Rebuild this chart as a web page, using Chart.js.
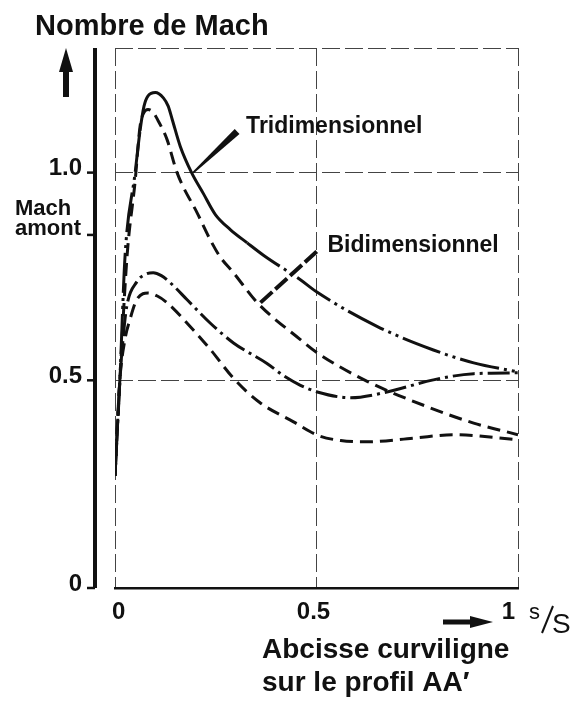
<!DOCTYPE html>
<html lang="fr">
<head>
    <meta charset="UTF-8">
    <title>Nombre de Mach</title>
    <script src="https://cdn.jsdelivr.net/npm/chart.js"></script>
    <style>
        body {
            margin: 0;
            background-color: #fff;
        }
        #wrap {
            position: relative;
            width: 582px;
            height: 704px;
        }
    </style>
</head>
<body>
    <div id="wrap">
        <canvas id="machChart" width="582" height="704"></canvas>
    </div>

    <script>
        // valeurs (s/S, nombre de Mach)
        var triHautX = [0, 0.012, 0.025, 0.05, 0.062, 0.072, 0.082, 0.1, 0.12, 0.132, 0.142, 0.162, 0.19, 0.219, 0.249, 0.286, 0.328, 0.37, 0.46, 0.5, 0.65, 0.79, 0.89, 1.0];
        var triHautY = [0.27, 0.5, 0.8, 1.0, 1.1, 1.16, 1.185, 1.193, 1.18, 1.16, 1.128, 1.063, 1.0, 0.95, 0.899, 0.863, 0.831, 0.80, 0.742, 0.713, 0.63, 0.573, 0.542, 0.52];

        var biHautX = [0, 0.012, 0.03, 0.05, 0.062, 0.072, 0.082, 0.095, 0.107, 0.129, 0.154, 0.206, 0.236, 0.261, 0.294, 0.353, 0.46, 0.502, 0.627, 0.776, 0.89, 1.0];
        var biHautY = [0.27, 0.5, 0.8, 0.98, 1.11, 1.145, 1.152, 1.145, 1.125, 1.08, 1.0, 0.899, 0.839, 0.797, 0.759, 0.687, 0.598, 0.566, 0.497, 0.436, 0.397, 0.369];

        var triBasX = [0, 0.012, 0.02, 0.029, 0.054, 0.075, 0.095, 0.115, 0.137, 0.179, 0.236, 0.294, 0.378, 0.42, 0.46, 0.502, 0.585, 0.667, 0.79, 0.89, 1.0];
        var triBasY = [0.27, 0.5, 0.6, 0.677, 0.737, 0.755, 0.759, 0.752, 0.735, 0.694, 0.638, 0.59, 0.54, 0.51, 0.488, 0.472, 0.458, 0.47, 0.501, 0.516, 0.518];

        var biBasX = [0, 0.012, 0.025, 0.037, 0.054, 0.082, 0.105, 0.129, 0.187, 0.236, 0.294, 0.36, 0.443, 0.502, 0.56, 0.627, 0.742, 0.84, 1.0];
        var biBasY = [0.27, 0.5, 0.6, 0.646, 0.694, 0.71, 0.703, 0.687, 0.629, 0.575, 0.505, 0.446, 0.40, 0.368, 0.355, 0.352, 0.361, 0.369, 0.357];

        var yTicks = [0, 0.5, 1.0, 1.3];
        var yTickLabels = ['0', '0.5', '1.0', ''];
        var xTicks = [0, 0.5, 1];
        var xTickLabels = ['0', '0.5', '1'];
        var machAmont = 0.85;

        var FONT = '"Liberation Sans", Arial, sans-serif';
        Chart.defaults.font.family = FONT;

        function pts(xs, ys) {
            return xs.map(function(x, i) { return { x: x, y: ys[i] }; });
        }

        // annotations: point on the curve -> end of leader (data units)
        var notes = [
            { text: 'Tridimensionnel', from: [0.194, 1.0], to: [0.303, 1.099], dashed: false },
            { text: 'Bidimensionnel', from: [0.361, 0.687], to: [0.505, 0.814], dashed: true }
        ];

        function arrowUp(ctx, x, top, bottom) {
            ctx.beginPath();
            ctx.moveTo(x, top);
            ctx.lineTo(x + 7, top + 24);
            ctx.lineTo(x - 7, top + 24);
            ctx.closePath();
            ctx.fill();
            ctx.fillRect(x - 3, top + 20, 6, bottom - top - 20);
        }

        function arrowRight(ctx, left, right, y) {
            ctx.fillRect(left, y - 2.5, right - left - 20, 5);
            ctx.beginPath();
            ctx.moveTo(right, y);
            ctx.lineTo(right - 23, y - 6);
            ctx.lineTo(right - 23, y + 6);
            ctx.closePath();
            ctx.fill();
        }

        var decorPlugin = {
            id: 'decor',
            afterDraw: function(chart) {
                var ctx = chart.ctx;
                var xs = chart.scales.x, ys = chart.scales.y;
                var area = chart.chartArea;
                ctx.save();
                ctx.fillStyle = '#111';
                ctx.strokeStyle = '#111';

                // title + up arrow
                ctx.font = 'bold 29px ' + FONT;
                ctx.textAlign = 'left';
                ctx.textBaseline = 'alphabetic';
                ctx.fillText('Nombre de Mach', 35, 35);
                arrowUp(ctx, 66, area.top, area.top + 49);

                // detached vertical axis with ticks
                var axX = area.left - 20;
                ctx.lineWidth = 4;
                ctx.beginPath();
                ctx.moveTo(axX, area.top);
                ctx.lineTo(axX, area.bottom);
                ctx.stroke();
                ctx.lineWidth = 2.5;
                yTicks.slice(0, 3).concat([machAmont]).forEach(function(v) {
                    var py = ys.getPixelForValue(v);
                    ctx.beginPath();
                    ctx.moveTo(axX - 8, py);
                    ctx.lineTo(axX, py);
                    ctx.stroke();
                });

                // Mach amont
                var pa = ys.getPixelForValue(machAmont);
                ctx.font = 'bold 22px ' + FONT;
                ctx.fillText('Mach', 15, pa - 20);
                ctx.fillText('amont', 15, pa);

                // curve labels with leaders
                notes.forEach(function(n) {
                    var x0 = xs.getPixelForValue(n.from[0]), y0 = ys.getPixelForValue(n.from[1]);
                    var x1 = xs.getPixelForValue(n.to[0]), y1 = ys.getPixelForValue(n.to[1]);
                    if (n.dashed) {
                        ctx.lineWidth = 4;
                        ctx.setLineDash([16, 4]);
                        ctx.beginPath();
                        ctx.moveTo(x0, y0);
                        ctx.lineTo(x1, y1);
                        ctx.stroke();
                        ctx.setLineDash([]);
                    } else {
                        var dx = x1 - x0, dy = y1 - y0, len = Math.sqrt(dx * dx + dy * dy);
                        var nx = -dy / len, ny = dx / len;
                        ctx.beginPath();
                        ctx.moveTo(x0 + nx * 1, y0 + ny * 1);
                        ctx.lineTo(x1 + nx * 3.5, y1 + ny * 3.5);
                        ctx.lineTo(x1 - nx * 3.5, y1 - ny * 3.5);
                        ctx.lineTo(x0 - nx * 1, y0 - ny * 1);
                        ctx.closePath();
                        ctx.fill();
                    }
                    ctx.font = 'bold 23px ' + FONT;
                    ctx.fillText(n.text, x1 + 9, y1 + 2);
                });

                // unit after the last x tick
                var p1 = xs.getPixelForValue(1);
                arrowRight(ctx, p1 - 75, p1 - 25, 622);
                ctx.font = '22px ' + FONT;
                ctx.fillText('s', p1 + 11, 619);
                ctx.lineWidth = 2;
                ctx.beginPath();
                ctx.moveTo(p1 + 24, 633);
                ctx.lineTo(p1 + 35, 606);
                ctx.stroke();
                ctx.font = '28px ' + FONT;
                ctx.fillText('S', p1 + 34, 633);

                // x axis title
                ctx.font = 'bold 28px ' + FONT;
                ctx.fillText('Abcisse curviligne', 262, 658);
                ctx.fillText('sur le profil AA\u2032', 262, 691);
                ctx.restore();
            }
        };

        var gridDash = [18, 5];

        new Chart(document.getElementById('machChart'), {
            type: 'line',
            data: {
                datasets: [
                    {
                        label: 'Tridimensionnel',
                        data: pts(triHautX, triHautY),
                        borderColor: '#111',
                        borderWidth: 3,
                        borderDash: [40, 5, 3, 5, 3, 5],
                        segment: {
                            borderDash: function(c) {
                                return (c.p0.parsed.x >= 0.06 && c.p1.parsed.x <= 0.33) ? [] : undefined;
                            }
                        }
                    },
                    {
                        label: 'Bidimensionnel',
                        data: pts(biHautX, biHautY),
                        borderColor: '#111',
                        borderWidth: 3,
                        borderDash: [13, 7]
                    },
                    {
                        label: 'Tridimensionnel (bas)',
                        data: pts(triBasX, triBasY),
                        borderColor: '#111',
                        borderWidth: 3,
                        borderDash: [22, 5, 3, 5]
                    },
                    {
                        label: 'Bidimensionnel (bas)',
                        data: pts(biBasX, biBasY),
                        borderColor: '#111',
                        borderWidth: 3,
                        borderDash: [13, 7]
                    }
                ]
            },
            options: {
                responsive: false,
                animation: false,
                events: [],
                layout: { padding: { top: 48, right: 64, left: 0, bottom: 0 } },
                elements: {
                    point: { radius: 0 },
                    line: { cubicInterpolationMode: 'monotone', fill: false }
                },
                plugins: {
                    legend: { display: false },
                    tooltip: { enabled: false }
                },
                scales: {
                    x: {
                        type: 'linear',
                        min: 0,
                        max: 1,
                        afterFit: function(s) { s.height = 116; },
                        afterBuildTicks: function(s) {
                            s.ticks = xTicks.map(function(v) { return { value: v }; });
                        },
                        grid: { color: '#444', lineWidth: 1, drawTicks: false },
                        border: { color: '#111', width: 2.5, dash: gridDash },
                        ticks: {
                            align: 'inner',
                            labelOffset: -3,
                            padding: 10,
                            color: '#111',
                            font: { size: 24, weight: 'bold' },
                            callback: function(v, i) { return xTickLabels[i]; }
                        }
                    },
                    y: {
                        type: 'linear',
                        min: 0,
                        max: 1.3,
                        afterFit: function(s) { s.width = 115; },
                        afterBuildTicks: function(s) {
                            s.ticks = yTicks.map(function(v) { return { value: v }; });
                        },
                        grid: { color: '#444', lineWidth: 1, drawTicks: false },
                        border: { display: false, dash: gridDash },
                        ticks: {
                            padding: 33,
                            labelOffset: -4,
                            color: '#111',
                            font: { size: 24, weight: 'bold' },
                            callback: function(v, i) { return yTickLabels[i]; }
                        }
                    }
                }
            },
            plugins: [decorPlugin]
        });
    </script>
</body>
</html>
